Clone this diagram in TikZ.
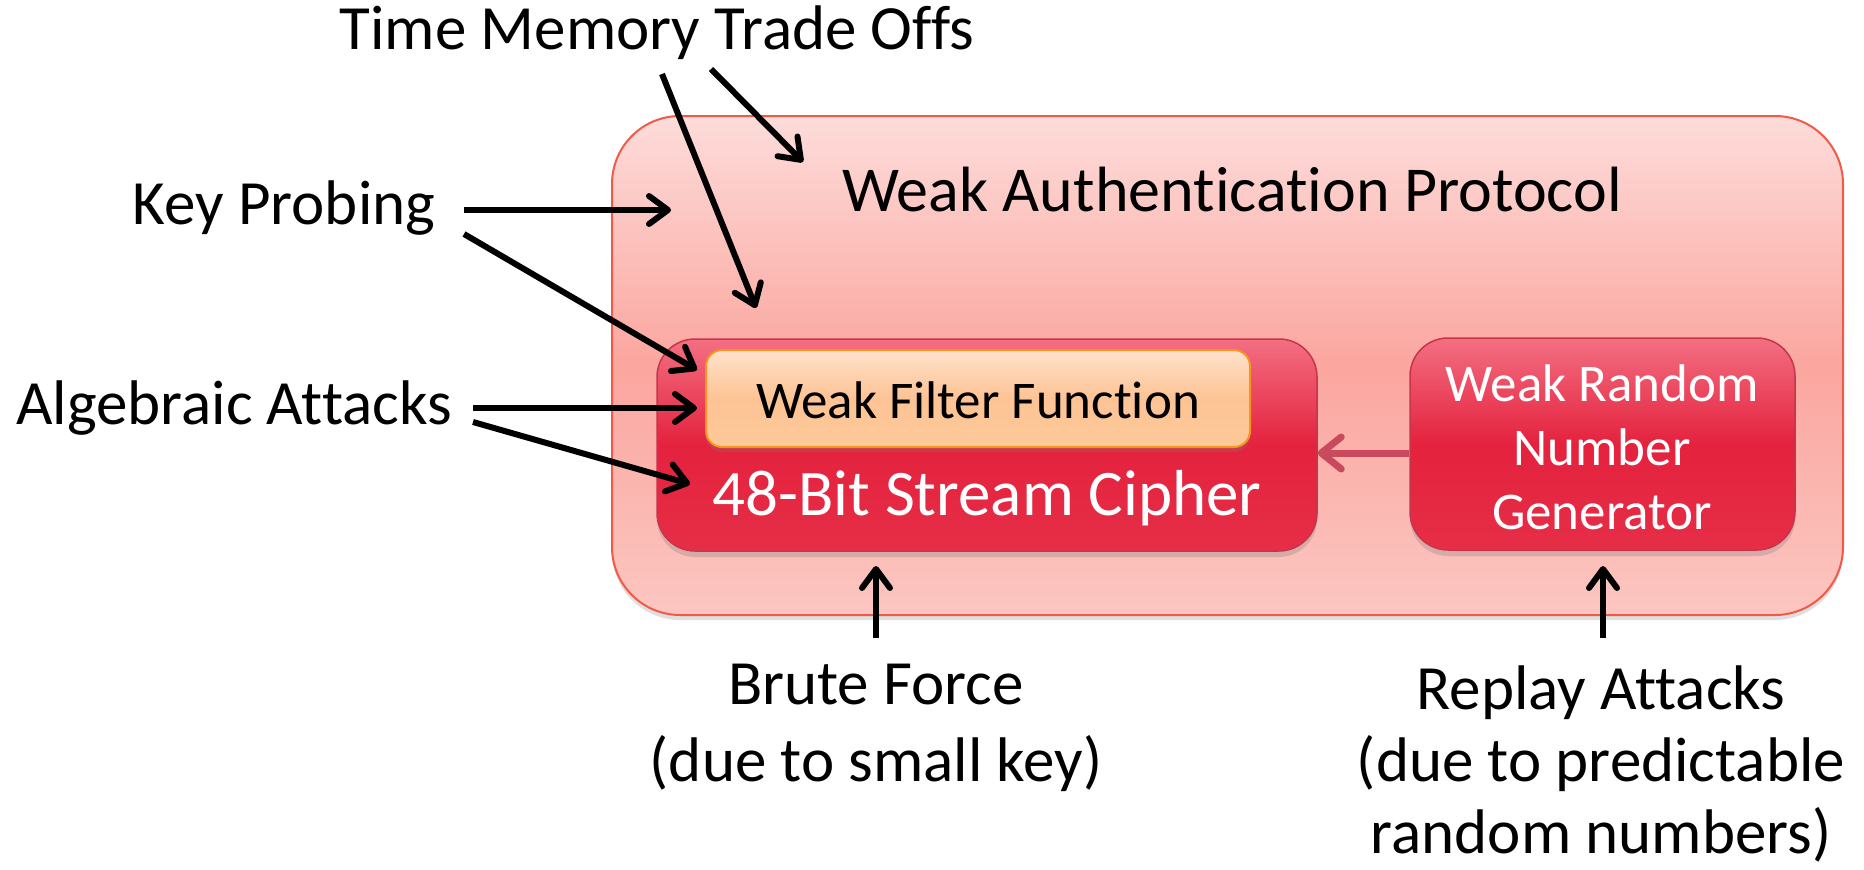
\documentclass[tikz,border=0pt]{standalone}
\usepackage{fontspec}
\setmainfont{Carlito}[Ligatures={NoCommon}]
\usetikzlibrary{arrows.meta,shadows,calc}
\definecolor{outerline}{HTML}{F25A48}
\definecolor{outertop}{HTML}{FDDCDA}
\definecolor{outermid}{HTML}{FBA69F}
\definecolor{outerbot}{HTML}{FCC6C1}
\definecolor{redtop}{HTML}{F36F82}
\definecolor{redmid}{HTML}{E4223E}
\definecolor{redbot}{HTML}{E62E47}
\definecolor{redline}{HTML}{C8344A}
\definecolor{peachtop}{HTML}{FEE2CC}
\definecolor{peachmid}{HTML}{FDC394}
\definecolor{peachbot}{HTML}{FDC999}
\definecolor{peachline}{HTML}{F7941D}
\definecolor{rngarrow}{HTML}{C94A5C}
\begin{document}
\begin{tikzpicture}[x=1pt,y=-1pt,
  bigtext/.style={font=\fontsize{63}{77}\selectfont, align=center, inner sep=0pt},
  smalltext/.style={font=\fontsize{53}{64}\selectfont, align=center, inner sep=0pt},
  outerbox/.style={draw=outerline, line width=2pt, rounded corners=68pt,
     top color=outertop, bottom color=outerbot, middle color=outermid,
     drop shadow={shadow xshift=0pt, shadow yshift=-5pt, opacity=0.25}},
  redbox/.style={draw=redline, line width=1.5pt, rounded corners=38pt,
     top color=redtop, bottom color=redbot, middle color=redmid,
     drop shadow={shadow xshift=0pt, shadow yshift=-6pt, opacity=0.3}},
  peachbox/.style={draw=peachline, line width=2pt, rounded corners=16pt,
     top color=peachtop, bottom color=peachbot, middle color=peachmid,
     drop shadow={shadow xshift=0pt, shadow yshift=-5pt, opacity=0.25}},
  attack/.style={line width=6pt, black, -{Straight Barb[length=19pt,width=28pt,round]}},
  inner/.style={line width=7pt, rngarrow, -{Straight Barb[length=20pt,width=32pt,round]}}
]
\useasboundingbox (0,0) rectangle (1864,870);

% boxes
\node[outerbox, minimum width=1231pt, minimum height=499pt] (outer) at (1227.5,365.5) {};
\node[bigtext, font=\fontsize{64}{77}\selectfont] (wap) at (1232,190) {Weak Authentication Protocol};

\node[redbox, minimum width=660pt, minimum height=212pt] (cipher) at (987,445) {};
\node[peachbox, minimum width=544pt, minimum height=97pt] (filter) at (978,398.5) {};
\node[smalltext] (filtertxt) at (978,400) {Weak Filter Function};
\node[bigtext, text=white, font=\fontsize{65}{77}\selectfont] (ciphertxt) at (987,498) {48-Bit Stream Cipher};

\node[redbox, minimum width=385pt, minimum height=212pt] (rng) at (1602.5,444) {};
\node[smalltext, text=white] (rngtxt) at (1602,447) {Weak Random\\Number\\Generator};

% labels
\node[bigtext] (tmto) at (657,33) {Time Memory Trade Offs};
\node[bigtext] (kp) at (284,208) {Key Probing};
\node[bigtext] (aa) at (234,408) {Algebraic Attacks};
\node[bigtext, font=\fontsize{63}{77}\selectfont] (bf) at (876,728) {Brute Force\\(due to small key)};
\node[bigtext, font=\fontsize{63}{72}\selectfont] (ra) at (1601,764) {Replay Attacks\\(due to predictable\\random numbers)};

% arrow end points
\coordinate (tm1s) at (711,69);  \coordinate (tm1e) at (803,162);
\coordinate (tm2s) at (662,74);  \coordinate (tm2e) at (756,308);
\coordinate (kp1s) at (464,210); \coordinate (kp1e) at (671,210);
\coordinate (kp2s) at (464,234); \coordinate (kp2e) at (697,370);
\coordinate (aa1s) at (473,408); \coordinate (aa1e) at (697,408);
\coordinate (aa2s) at (473,422); \coordinate (aa2e) at (690,484);
\coordinate (bfs) at (876,638);  \coordinate (bfe) at (876,566);
\coordinate (ras) at (1603,638); \coordinate (rae) at (1603,566);

\draw[attack] (tm1s) -- (tm1e);
\draw[attack] (tm2s) -- (tm2e);
\draw[attack] (kp1s) -- (kp1e);
\draw[attack] (kp2s) -- (kp2e);
\draw[attack] (aa1s) -- (aa1e);
\draw[attack] (aa2s) -- (aa2e);
\draw[attack] (bfs) -- (bfe);
\draw[attack] (ras) -- (rae);

\draw[inner] ($(rng.west)+(0,9)$) -- ($(cipher.east)+(0,8)$);
\end{tikzpicture}
\end{document}
